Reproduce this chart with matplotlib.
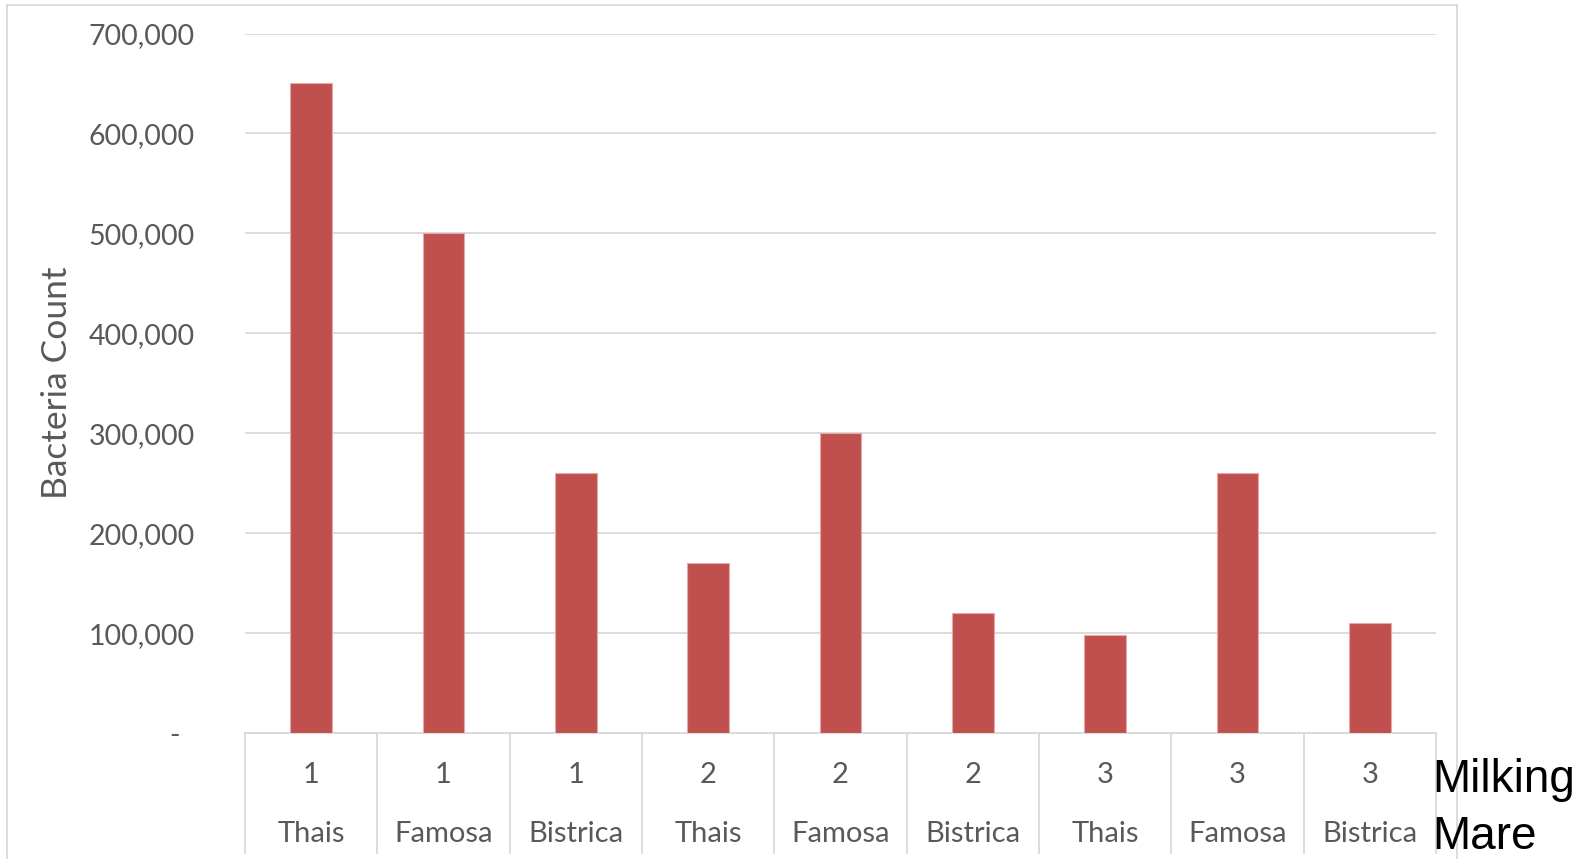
import matplotlib
matplotlib.use("Agg")
import matplotlib.pyplot as plt
from matplotlib.ticker import FuncFormatter, MultipleLocator
from matplotlib.lines import Line2D

milking = ["1", "1", "1", "2", "2", "2", "3", "3", "3"]
mares = ["Thais", "Famosa", "Bistrica", "Thais", "Famosa", "Bistrica", "Thais", "Famosa", "Bistrica"]
bacteria = [650000, 500000, 260000, 170000, 300000, 120000, 98000, 260000, 110000]

W, H = 1589, 859
fig = plt.figure(figsize=(W / 100, H / 100), dpi=100)
fig.patch.set_facecolor("white")

L, R = 245 / W, 1436 / W
B, T = 1 - 733 / H, 1 - 33.5 / H
ax = fig.add_axes([L, B, R - L, T - B])
PH = 733 - 33.5

grey = "#d9d9d9"
txt = "#595959"
font = "Lato"

x = list(range(len(bacteria)))
ax.bar(x, bacteria, width=0.315, color="#c0504d", edgecolor="#e6a9a8", linewidth=0.8, zorder=3)
ax.set_xlim(-0.5, len(bacteria) - 0.5)
ax.set_ylim(0, 700000)
ax.yaxis.set_major_locator(MultipleLocator(100000))
ax.yaxis.set_major_formatter(FuncFormatter(lambda v, p: "-  " if v == 0 else f"{int(v):,}"))
ax.grid(axis="y", color=grey, linewidth=1.3, zorder=0)
for s in ["left", "right", "top"]:
    ax.spines[s].set_visible(False)
ax.spines["bottom"].set_color(grey)
ax.spines["bottom"].set_linewidth(1.3)
ax.tick_params(axis="y", length=0, pad=36, labelsize=20.5, labelcolor=txt)
for lab in ax.get_yticklabels():
    lab.set_fontfamily(font)
ax.set_xticks([])

# category labels
for i in x:
    ax.text(i, -42 / PH, milking[i], transform=ax.get_xaxis_transform(),
            ha="center", va="center", fontsize=21, color=txt, family=font)
    ax.text(i, -101 / PH, mares[i], transform=ax.get_xaxis_transform(),
            ha="center", va="center", fontsize=21, color=txt, family=font)
# separators
for i in range(len(bacteria) + 1):
    ax.add_line(Line2D([i - 0.5, i - 0.5], [0, -120 / PH], transform=ax.get_xaxis_transform(),
                       color=grey, linewidth=1.3, clip_on=False))

fig.text(57 / W, 1 - 383 / H, "Bacteria Count", rotation=90, ha="center", va="center",
         fontsize=25.5, color=txt, family=font)

fig.text(1432 / W, 1 - 792 / H, "Milking", ha="left", va="baseline", fontsize=33,
         color="black", family="Liberation Sans")
fig.text(1432 / W, 1 - 849 / H, "Mare", ha="left", va="baseline", fontsize=33,
         color="black", family="Liberation Sans")

# outer border
for xs, ys in [([7, 7], [5, H + 5]), ([7, 1457], [5, 5]), ([1457, 1457], [5, H + 5])]:
    fig.add_artist(Line2D([v / W for v in xs], [1 - v / H for v in ys], transform=fig.transFigure,
                          color=grey, linewidth=1.3))

fig.savefig("out.png", dpi=100)
